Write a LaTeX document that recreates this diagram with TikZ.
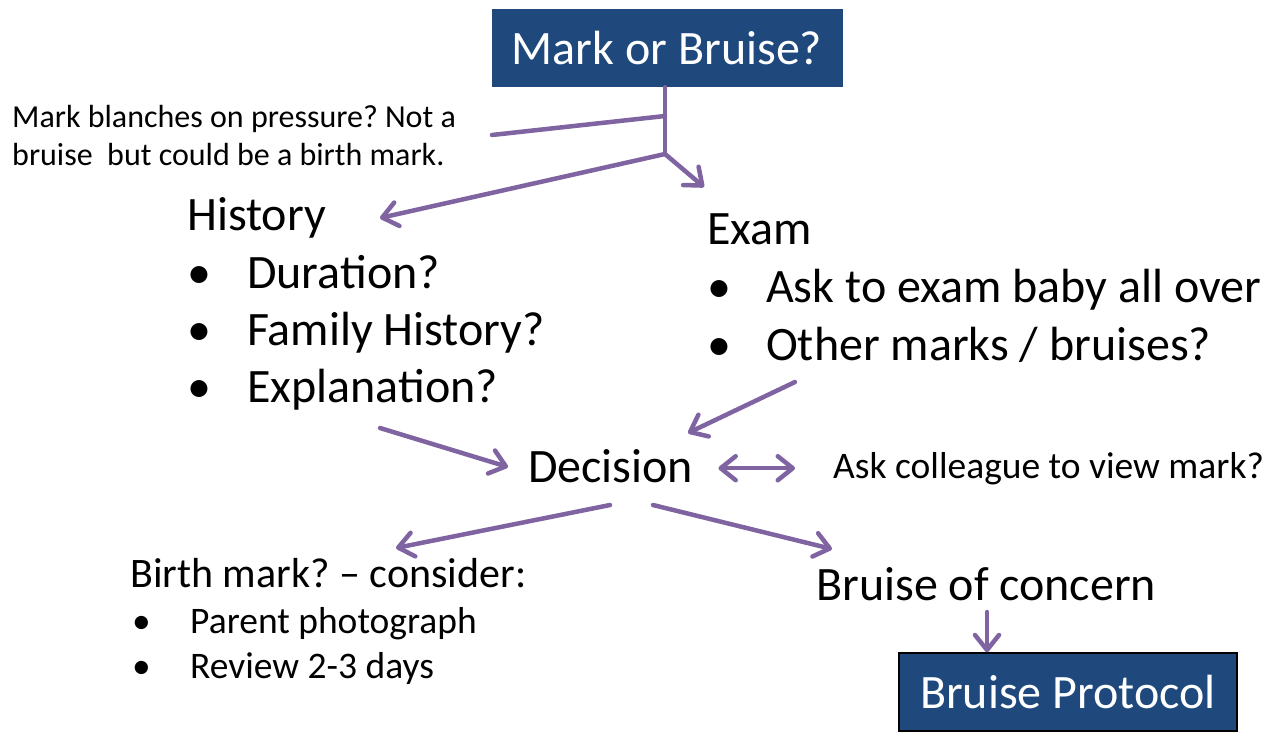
\documentclass[tikz,border=0pt]{standalone}
\usepackage{fontspec}
\setmainfont{Carlito}
\usetikzlibrary{arrows.meta,positioning}
\definecolor{boxblue}{HTML}{1F497D}
\definecolor{flowpurple}{HTML}{8064A2}
\frenchspacing
\tikzset{
  flow/.style={draw=flowpurple, line width=4.5pt, line cap=round},
  arr/.style={flow, -{Straight Barb[length=15pt,width=24pt,round]}},
  dblarr/.style={flow, {Straight Barb[length=15pt,width=24pt,round]}-{Straight Barb[length=15pt,width=24pt,round]}},
  bigtext/.style={font=\fontsize{48}{56}\selectfont, inner sep=0pt, anchor=base west},
  midtext/.style={font=\fontsize{37.5}{44}\selectfont, inner sep=0pt, anchor=base west},
  notetext/.style={font=\fontsize{32}{38}\selectfont, inner sep=0pt, anchor=base west},
  bluebox/.style={fill=boxblue, text=white, font=\fontsize{48}{56}\selectfont,
    minimum width=#1, minimum height=78pt, inner sep=0pt},
}
\newcommand{\bul}[2]{\makebox[#1][l]{\textbullet}#2}
\begin{document}
\begin{tikzpicture}[x=1pt,y=-1pt]
  \useasboundingbox (0,0) rectangle (1271,732);

  % boxes
  \node[bluebox=351pt] (mark) at (667,48) {Mark or Bruise?};
  \node[bluebox=338pt, draw=black, line width=1.5pt] (protocol) at (1068,692) {Bruise Protocol};

  % note
  \node[notetext] (note1) at (12,127) {Mark blanches on pressure? Not a};
  \node[notetext] (note2) at (12,165) {bruise\ \ but could be a birth mark.};

  % history
  \node[bigtext] (history) at (187,230) {History};
  \node[bigtext] (hist1) at (187,288) {\bul{60pt}{Duration?}};
  \node[bigtext] (hist2) at (187,345) {\bul{60pt}{Family History?}};
  \node[bigtext] (hist3) at (187,402) {\bul{60pt}{Explanation?}};

  % exam
  \node[bigtext] (exam) at (707,244) {Exam};
  \node[bigtext] (exam1) at (707,302) {\bul{59pt}{Ask to exam baby all over}};
  \node[bigtext] (exam2) at (707,360) {\bul{59pt}{Other marks / bruises?}};

  % decision
  \node[bigtext] (decision) at (528,482) {Decision};
  \node[midtext] (colleague) at (833,478) {Ask colleague to view mark?};

  % outcomes
  \node[midtext, font=\fontsize{42}{48}\selectfont] (birth) at (130,587) {Birth mark? -- consider:};
  \node[midtext] (birth1) at (132,633) {\bul{58pt}{Parent photograph}};
  \node[midtext] (birth2) at (132,678) {\bul{58pt}{Review 2-3 days}};
  \node[bigtext] (concern) at (816,600) {Bruise of concern};

  % connector points
  \coordinate (split) at (665,154);
  \coordinate (side) at (665,116);
  \coordinate (noteend) at (492,135);
  \coordinate (histtip) at (380,218);
  \coordinate (examtip) at (704,187);
  \coordinate (explout) at (380,428);
  \coordinate (decinL) at (508,467);
  \coordinate (examout) at (795,382);
  \coordinate (decinR) at (688,433);
  \coordinate (decoutL) at (610,505);
  \coordinate (birthtip) at (396,548);
  \coordinate (decoutR) at (653,505);
  \coordinate (concerntip) at (832,549);
  \coordinate (concernout) at (987,612);

  \draw[flow] (split |- mark.south) -- (split);
  \draw[flow] (side) -- (noteend);
  \draw[arr] (split) -- (histtip);
  \draw[arr] (split) -- (examtip);

  \draw[arr] (explout) -- (decinL);
  \draw[arr] (examout) -- (decinR);
  \draw[dblarr, shorten <=25pt, shorten >=38pt] (decision.east |- colleague.west) -- (colleague.west);

  \draw[arr] (decoutL) -- (birthtip);
  \draw[arr] (decoutR) -- (concerntip);
  \draw[arr] (concernout) -- (concernout |- protocol.north);
\end{tikzpicture}
\end{document}
